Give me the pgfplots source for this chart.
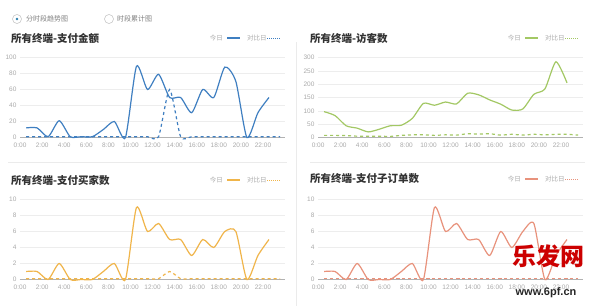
\documentclass[border=0pt]{standalone}
\usepackage{fontspec}
\setmainfont{Liberation Sans}
\newfontfamily\cjk{Noto Sans CJK SC}
\usepackage{pgfplots}
\pgfplotsset{compat=1.18}
\definecolor{cblue}{HTML}{3F7FC1}
\definecolor{cgreen}{HTML}{A3C864}
\definecolor{corange}{HTML}{F0B54A}
\definecolor{csalmon}{HTML}{E8927C}
\definecolor{ctext}{HTML}{333333}
\definecolor{clight}{HTML}{AAAAAA}
\pgfplotsset{panel/.style={
  scale only axis, width=265pt, height=80pt,
  xmin=-0.55, xmax=23.45, ymin=0, clip=false,
  axis x line*=bottom, axis y line*=left,
  y axis line style={draw=none},
  x axis line style={draw=black!30, line width=0.8pt, -},
  major tick length=0pt, tick style={draw=none},
  xtick={0,2,...,22},
  xticklabels={0:00,2:00,4:00,6:00,8:00,10:00,12:00,14:00,16:00,18:00,20:00,22:00},
  ymajorgrids, grid style={black!7, line width=0.4pt},
  tick label style={font=\fontsize{6.5}{7}\selectfont, text=clight},
  /pgf/number format/assume math mode=true,
  x tick label style={xshift=-6pt, yshift=-1.5pt},
  y tick label style={xshift=0pt},
  today/.style={line width=1.2pt, smooth, tension=0.4},
  comp/.style={line width=1.2pt, smooth, tension=0.4, dash pattern=on 3pt off 3pt},
}}
\begin{document}
\begin{tikzpicture}[x=1pt,y=1pt]
\fill[white] (0,0) rectangle (600,306);
% separators
\draw[black!8, line width=0.6pt] (8,144) -- (287,144);
\draw[black!8, line width=0.6pt] (310,144) -- (585,144);
\draw[black!8, line width=0.6pt] (296,264) -- (296,0);
% radio buttons
\draw[black!25, line width=0.5pt] (17,287) circle (4.5);
\fill[cblue!70!teal] (17,287) circle (1.4);
\node[anchor=west, inner sep=0, text=black!50, font=\cjk\fontsize{7}{8}\selectfont] at (26,287) {分时段趋势图};
\draw[black!25, line width=0.5pt] (109,287) circle (4.5);
\node[anchor=west, inner sep=0, text=black!50, font=\cjk\fontsize{7}{8}\selectfont] at (117,287) {时段累计图};
% titles
\node[anchor=west, inner sep=0, text=ctext, font=\cjk\bfseries\fontsize{10.5}{12}\selectfont] at (11,268) {所有终端-支付金额};
\node[anchor=west, inner sep=0, text=ctext, font=\cjk\bfseries\fontsize{10.5}{12}\selectfont] at (310,268) {所有终端-访客数};
\node[anchor=west, inner sep=0, text=ctext, font=\cjk\bfseries\fontsize{10.5}{12}\selectfont] at (11,126) {所有终端-支付买家数};
\node[anchor=west, inner sep=0, text=ctext, font=\cjk\bfseries\fontsize{10.5}{12}\selectfont] at (310,127) {所有终端-支付子订单数};
% legends
\foreach \dx/\dy/\col in {0/268/cblue, 298/268/cgreen, 0/126/corange, 298/127/csalmon}{
  \node[anchor=east, inner sep=0, text=clight, font=\cjk\fontsize{6.5}{7}\selectfont] at (223+\dx,\dy) {今日};
  \draw[\col, line width=1.1pt] (227+\dx,\dy) -- (240+\dx,\dy);
  \node[anchor=west, inner sep=0, text=clight, font=\cjk\fontsize{6.5}{7}\selectfont] at (247+\dx,\dy) {对比日};
  \draw[\col, line width=0.9pt, dash pattern=on 1pt off 1pt] (267+\dx,\dy) -- (281+\dx,\dy);
}
% panel 1
\begin{axis}[panel, at={(20pt,168.5pt)}, anchor=south west, ymax=100, ytick={0,20,...,100}]
\addplot[cblue, comp] coordinates {(0,1)(1,1)(2,1)(3,1)(4,1)(5,1)(6,1)(7,1)(8,1)(9,1)(10,1)(11,1)(12,1)(13,60)(14,1)(15,1)(16,1)(17,1)(18,1)(19,1)(20,1)(21,1)(22,1)(23,1)};
\addplot[cblue, today] coordinates {(0,12)(1,12)(2,1)(3,21)(4,1)(5,1)(6,1)(7,10)(8,20)(9,0)(10,89)(11,60)(12,79)(13,50)(14,50)(15,31)(16,60)(17,50)(18,88)(19,70)(20,0)(21,31)(22,50)};
\end{axis}
% panel 2
\begin{axis}[panel, at={(318pt,168.5pt)}, anchor=south west, ymax=300, ytick={0,50,...,300}]
\addplot[cgreen, comp] coordinates {(0,8)(1,8)(2,7)(3,5)(4,5)(5,5)(6,4)(7,8)(8,10)(9,10)(10,8)(11,10)(12,9)(13,14)(14,13)(15,14)(16,9)(17,12)(18,9)(19,12)(20,10)(21,12)(22,12)(23,9)};
\addplot[cgreen, today] coordinates {(0,97)(1,82)(2,44)(3,35)(4,21)(5,31)(6,44)(7,46)(8,72)(9,128)(10,121)(11,133)(12,126)(13,166)(14,160)(15,141)(16,125)(17,103)(18,107)(19,162)(20,182)(21,284)(22,205)};
\end{axis}
% panel 3
\begin{axis}[panel, at={(20pt,26.5pt)}, anchor=south west, ymax=10, ytick={0,2,...,10}]
\addplot[corange, comp] coordinates {(0,0.1)(1,0.1)(2,0.1)(3,0.1)(4,0.1)(5,0.1)(6,0.1)(7,0.1)(8,0.1)(9,0.1)(10,0.1)(11,0.1)(12,0.1)(13,1)(14,0.1)(15,0.1)(16,0.1)(17,0.1)(18,0.1)(19,0.1)(20,0.1)(21,0.1)(22,0.1)(23,0.1)};
\addplot[corange, today] coordinates {(0,1)(1,1)(2,0)(3,2)(4,0)(5,0)(6,0)(7,1)(8,2)(9,0)(10,9)(11,6)(12,7)(13,5)(14,5)(15,3)(16,5)(17,4)(18,6)(19,6)(20,0)(21,3)(22,5)};
\end{axis}
% panel 4
\begin{axis}[panel, at={(318pt,26.5pt)}, anchor=south west, ymax=10, ytick={0,2,...,10}]
\addplot[csalmon, comp] coordinates {(0,0.1)(1,0.1)(2,0.1)(3,0.1)(4,0.1)(5,0.1)(6,0.1)(7,0.1)(8,0.1)(9,0.1)(10,0.1)(11,0.1)(12,0.1)(13,0.1)(14,0.1)(15,0.1)(16,0.1)(17,0.1)(18,0.1)(19,0.1)(20,0.1)(21,0.1)(22,0.1)(23,0.1)};
\addplot[csalmon, today] coordinates {(0,1)(1,1)(2,0)(3,2)(4,0)(5,0)(6,0)(7,1)(8,2)(9,0)(10,9)(11,6)(12,7)(13,5)(14,5)(15,3)(16,6)(17,4)(18,6)(19,7)(20,0)(21,3)(22,5)};
\end{axis}
% watermark text
\node[inner sep=0, text=red!80!black, font=\cjk\bfseries\fontsize{24}{26}\selectfont] at (548,50) {乐发网};
\node[inner sep=0, text=black!85, font=\bfseries\fontsize{11}{12}\selectfont] at (546,13) {www.6pf.cn};
\end{tikzpicture}
\end{document}
